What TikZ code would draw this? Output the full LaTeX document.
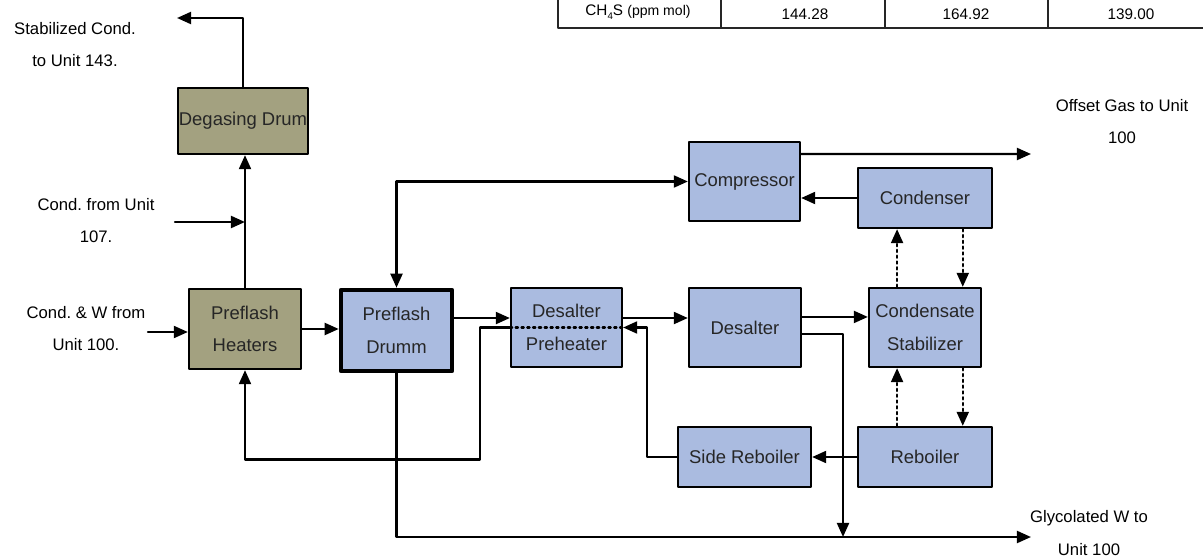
\documentclass[tikz,border=0pt]{standalone}
\usepackage{fontspec}
\setmainfont{Liberation Sans}
\usepackage{tikz}
\usetikzlibrary{arrows.meta}
\frenchspacing

\definecolor{unitblue}{RGB}{170,187,224}
\definecolor{heatolive}{RGB}{163,161,128}

\begin{document}
\begin{tikzpicture}[line cap=round,line join=round,>={Triangle[length=8pt,width=6.8pt]},x=0.02cm,y=-0.02cm,
                    unit/.style={draw, fill=unitblue, line width=1.3pt, inner sep=0pt, align=center, text=black!85, font=\fontsize{10.5}{18.5}\selectfont},
                    heat/.style={unit, fill=heatolive},
                    lbl/.style={align=center, font=\fontsize{9.5}{18.7}\selectfont},
                    cell/.style={font=\fontsize{8.7}{10}\selectfont},
                    flow/.style={line width=1.3pt}]
                        \useasboundingbox (0,0) rectangle (1203,557);

                        \draw [line width=0.9pt, black!85] (558,0) -- (558,28) -- (1203,28);
                        \draw [line width=0.9pt, black!85] (721,0) -- (721,28);
                        \draw [line width=0.9pt, black!85] (885,0) -- (885,28);
                        \draw [line width=0.9pt, black!85] (1048,0) -- (1048,28);
                        \node[cell] (ch4s) at (638,12) {CH\raisebox{-0.45ex}{\fontsize{5.5}{6}\selectfont 4}S {\fontsize{8}{10}\selectfont(ppm mol)}};
                        \node[cell] (vala) at (805,14) {144.28};
                        \node[cell] (valb) at (966,14) {164.92};
                        \node[cell] (valc) at (1131,14) {139.00};

                        \node[heat, minimum width=2.60cm, minimum height=1.32cm] (degas) at (243,121) {Degasing Drum};
                        \node[heat, minimum width=2.24cm, minimum height=1.60cm] (heaters) at (245,329) {Preflash\\Heaters};
                        \node[unit, line width=2.6pt, minimum width=2.22cm, minimum height=1.62cm] (drumm) at (396.5,330.5) {Preflash\\Drumm};
                        \node[unit, minimum width=2.22cm, minimum height=1.58cm] (preheat) at (566.5,327.5) {Desalter\\Preheater};
                        \node[unit, minimum width=2.24cm, minimum height=1.58cm] (desalter) at (745,327.5) {Desalter};
                        \node[unit, minimum width=2.22cm, minimum height=1.58cm] (compressor) at (744.5,181.5) {Compressor};
                        \node[unit, minimum width=2.68cm, minimum height=1.20cm] (condenser) at (925,198) {Condenser};
                        \node[unit, minimum width=2.24cm, minimum height=1.58cm] (stabil) at (925,327.5) {Condensate\\Stabilizer};
                        \node[unit, minimum width=2.68cm, minimum height=1.20cm] (reboiler) at (925,457) {Reboiler};
                        \node[unit, minimum width=2.66cm, minimum height=1.20cm] (siderebo) at (744.5,457) {Side Reboiler};

                        \node[lbl] (stablbl) at (75,44.5) {Stabilized Cond.\\to Unit 143.};
                        \node[lbl] (c107lbl) at (96,220.5) {Cond. from Unit\\107.};
                        \node[lbl] (inwlbl) at (86,328.5) {Cond. \& W from\\Unit 100.};
                        \node[lbl] (gaslbl) at (1122,121.5) {Offset Gas to Unit\\100};
                        \node[lbl] (glyclbl) at (1089,533) {Glycolated W to\\Unit 100};

                        \coordinate (stabout) at (177,18);
                        \coordinate (c107) at (175,222);
                        \coordinate (inW) at (148,332);
                        \coordinate (gasout) at (1031,154);
                        \coordinate (glyc) at (1031,537);
                        \coordinate (junc) at (843,537);

                        \draw [flow,->] (degas.north) |- (stabout);
                        \draw [flow,->] (heaters.north) -- (heaters.north |- degas.south);
                        \draw [flow,->] (c107) -- (c107 -| heaters.north);
                        \draw [flow,->] (inW) -- (inW -| heaters.west);
                        \draw [flow,->] (heaters.east) -- (heaters.east -| drumm.west);
                        \draw [flow,<->] (drumm.north) |- (compressor.west);
                        \draw [flow,->] ([yshift=7.1pt]drumm.east) -- ([yshift=7.1pt]drumm.east -| preheat.west);
                        \draw [flow,->] ([yshift=5.4pt]preheat.east) -- ([yshift=5.4pt]preheat.east -| desalter.west);
                        \draw [flow,dotted] (preheat.west) -- (preheat.east);
                        \draw [flow,->] ([yshift=6pt]desalter.east) -- ([yshift=6pt]desalter.east -| stabil.west);
                        \draw [flow,->] ([yshift=15.6pt]compressor.east) -- (gasout);
                        \draw [flow,->] (condenser.west) -- (condenser.west -| compressor.east);

                        \draw [flow,->,dotted] ([xshift=-15.9pt]stabil.north) -- ([xshift=-15.9pt]condenser.south);
                        \draw [flow,->,dotted] ([xshift=21.5pt]condenser.south) -- ([xshift=21.5pt]stabil.north);
                        \draw [flow,->,dotted] ([xshift=-15.9pt]reboiler.north) -- ([xshift=-15.9pt]stabil.south);
                        \draw [flow,->,dotted] ([xshift=21.5pt]stabil.south) -- ([xshift=21.5pt]reboiler.north);

                        \draw [flow,->] (reboiler.west) -- (siderebo.east);
                        \draw [flow,->] (siderebo.west) -- ++(-30,0) |- (preheat.east);
                        \draw [flow,->] (preheat.west) -- ++(-30,0) -- ++(0,132) -| (heaters.south);
                        \draw [flow,->] (drumm.south) |- (glyc);
                        \draw [flow,->] ([yshift=-3.7pt]desalter.east) -| (junc);
                    \end{tikzpicture}
\end{document}
